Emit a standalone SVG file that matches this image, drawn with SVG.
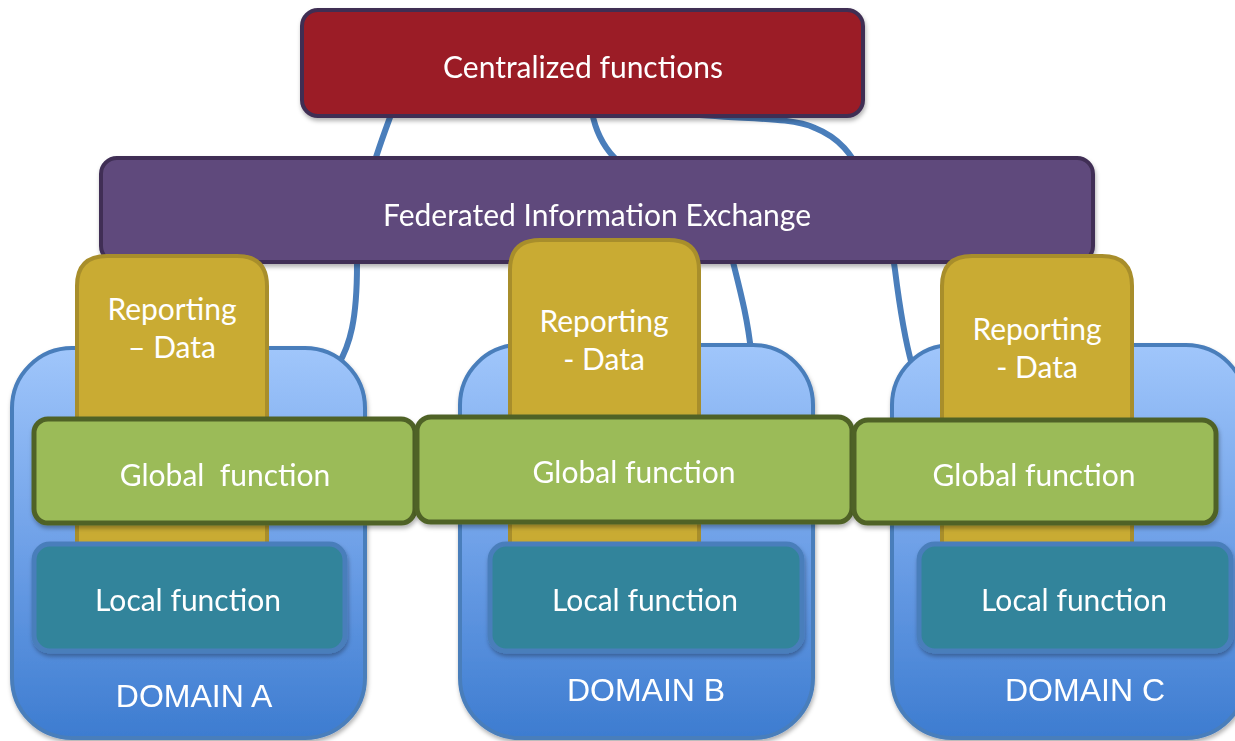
<svg xmlns="http://www.w3.org/2000/svg" width="1235" height="741" viewBox="0 0 1235 741">
<style>
.lbl{font-family:Lato,"Open Sans",sans-serif;fill:#fff;text-anchor:middle;font-size:30px}
.dom{font-family:"Liberation Sans",Arial,sans-serif;fill:#fff;text-anchor:middle;font-size:32px}
.conn{fill:none;stroke:#4A7EBB;stroke-width:6;stroke-linecap:round}
.domain{fill:url(#dg);stroke:#4A7EBB;stroke-width:4}
.rep{fill:#C9AB33;stroke:#A88E2B;stroke-width:4}
.glob{fill:#9BBB59;stroke:#4F6228;stroke-width:5}
.loc{fill:#31849B;stroke:#4A7EBB;stroke-width:5}
</style>
<defs>
<linearGradient id="dg" x1="0" y1="0" x2="0" y2="1">
<stop offset="0" stop-color="#A0C6FB"/>
<stop offset="0.5" stop-color="#6FA1E8"/>
<stop offset="1" stop-color="#3D7CD0"/>
</linearGradient>
<filter id="sh" x="-10%" y="-10%" width="120%" height="130%">
<feDropShadow dx="1" dy="3" stdDeviation="2" flood-color="#000" flood-opacity="0.3"/>
</filter>
</defs>
<rect width="1235" height="741" fill="#fff"/>
<g id="connectors">
<path class="conn" d="M392 112 C378 150 358 200 357 265 C357 320 350 345 338 365"/>
<path class="conn" d="M592 112 C598 145 615 170 680 200 C720 220 730 250 733 262 C740 290 748 320 751 352"/>
<path class="conn" d="M680 113 C740 120 790 116 815 128 C840 138 852 155 862 175 C880 210 892 245 895 270 C900 310 905 340 912 365"/>
</g>
<g id="centralized" filter="url(#sh)">
<rect x="302" y="10" width="561" height="106" rx="16" fill="#9B1B27" stroke="#3F2F52" stroke-width="4"/>
<text class="lbl" x="583" y="78">Centralized functions</text>
</g>
<g id="federated" filter="url(#sh)">
<rect x="101" y="158" width="992" height="104" rx="16" fill="#5F4A7B" stroke="#3F2F55" stroke-width="4"/>
<text class="lbl" x="597" y="226" font-size="31">Federated Information Exchange</text>
</g>
<g id="domainA" filter="url(#sh)">
<rect class="domain" x="12" y="348" width="353" height="390" rx="60"/>
<text class="dom" x="194" y="707">DOMAIN A</text>
</g>
<g id="domainB" filter="url(#sh)">
<rect class="domain" x="460" y="345" width="353" height="393" rx="60"/>
<text class="dom" x="646" y="701">DOMAIN B</text>
</g>
<g id="domainC" filter="url(#sh)">
<rect class="domain" x="892" y="345" width="354" height="393" rx="60"/>
<text class="dom" x="1085" y="701">DOMAIN C</text>
</g>
<g id="reportingA">
<path class="rep" d="M77 545 V286 Q77 256 107 256 H237 Q267 256 267 286 V545 Z"/>
<text class="lbl" x="172" y="320">Reporting</text>
<text class="lbl" x="172" y="358">– Data</text>
</g>
<g id="reportingB">
<path class="rep" d="M510 545 V270 Q510 240 540 240 H669 Q699 240 699 270 V545 Z"/>
<text class="lbl" x="604" y="332">Reporting</text>
<text class="lbl" x="604" y="370">- Data</text>
</g>
<g id="reportingC">
<path class="rep" d="M942 545 V286 Q942 256 972 256 H1102 Q1132 256 1132 286 V545 Z"/>
<text class="lbl" x="1037" y="340">Reporting</text>
<text class="lbl" x="1037" y="378">- Data</text>
</g>
<g id="globalA" filter="url(#sh)">
<rect class="glob" x="34" y="419" width="381" height="104" rx="14"/>
<text class="lbl" x="225" y="486" xml:space="preserve">Global  function</text>
</g>
<g id="globalB" filter="url(#sh)">
<rect class="glob" x="417" y="417" width="435" height="105" rx="14"/>
<text class="lbl" x="634" y="483">Global function</text>
</g>
<g id="globalC" filter="url(#sh)">
<rect class="glob" x="854" y="420" width="362" height="103" rx="14"/>
<text class="lbl" x="1034" y="486">Global function</text>
</g>
<g id="localA" filter="url(#sh)">
<rect class="loc" x="34" y="544" width="311" height="107" rx="16"/>
<text class="lbl" x="188" y="611">Local function</text>
</g>
<g id="localB" filter="url(#sh)">
<rect class="loc" x="490" y="544" width="312" height="107" rx="16"/>
<text class="lbl" x="645" y="611">Local function</text>
</g>
<g id="localC" filter="url(#sh)">
<rect class="loc" x="919" y="544" width="312" height="107" rx="16"/>
<text class="lbl" x="1074" y="611">Local function</text>
</g>
</svg>
